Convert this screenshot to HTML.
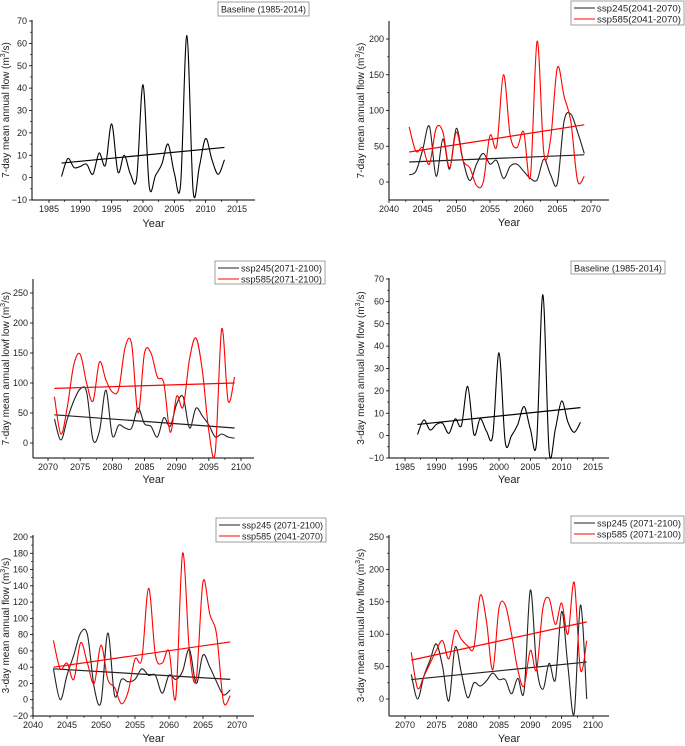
<!DOCTYPE html>
<html><head><meta charset="utf-8"><style>
body{margin:0;background:#fff;}
svg{display:block;font-family:"Liberation Sans",sans-serif;}
</style></head><body>
<svg id="fig" width="685" height="746" viewBox="0 0 685 746"></svg>
<script>
// ---- data ----
const yearsBase = [1987,1988,1989,1990,1991,1992,1993,1994,1995,1996,1997,1998,1999,2000,2001,2002,2003,2004,2005,2006,2007,2008,2009,2010,2011,2012,2013];
const base7 = [0.5,8.5,4.5,5,6,1.5,11,5.5,24,2.5,10,1.5,0,41.5,-4,1,6,15,2,-3,63.5,-6,5,17.5,8,1.5,8];
const base7Trend = [6.5,13.5];
const base3 = [0.5,7,2.5,5,5.5,1,7.5,4.5,22,0.5,7.5,2,0,37,-3,0,5,13,3,-3,63,-7,3,15.5,6,1.5,6];
const base3Trend = [5,12.5];

const yearsMid = [2043,2044,2045,2046,2047,2048,2049,2050,2051,2052,2053,2054,2055,2056,2057,2058,2059,2060,2061,2062,2063,2064,2065,2066,2067,2068,2069];
const mid7_245 = [10,15,45,78,8,60,18,75,30,2,25,40,25,30,5,22,25,15,5,3,32,10,-2,85,95,70,40];
const mid7_245Trend = [28,38];
const mid7_585 = [77,43,48,25,75,70,20,70,30,20,-5,0,65,50,150,65,48,70,8,197,40,60,160,120,85,2,8];
const mid7_585Trend = [42,80];
const mid3_245 = [38,0,30,55,82,80,15,-3,82,5,25,22,25,38,30,30,8,30,25,35,62,20,55,40,22,6,12];
const mid3_245Trend = [38,25];
const mid3_585 = [73,38,45,25,70,45,20,67,25,15,-5,10,50,50,137,55,45,60,3,180,60,25,145,105,80,-2,5];
const mid3_585Trend = [40,71];

const yearsFar = [2071,2072,2073,2074,2075,2076,2077,2078,2079,2080,2081,2082,2083,2084,2085,2086,2087,2088,2089,2090,2091,2092,2093,2094,2095,2096,2097,2098,2099];
const far7_245 = [40,5,40,70,90,85,5,20,88,12,30,25,25,58,32,28,10,42,28,65,77,25,58,45,30,10,15,10,8];
const far7_245Trend = [47,25];
const far7_585 = [77,15,60,130,148,100,70,135,105,85,90,160,165,50,150,150,110,100,18,78,60,140,175,120,20,-15,190,70,110];
const far7_585Trend = [91,100];
const far3_245 = [38,0,35,60,85,50,-3,80,40,2,25,20,28,40,30,30,8,32,12,168,50,15,55,30,135,50,-22,145,0];
const far3_245Trend = [30,57];
const far3_585 = [72,17,35,55,75,90,62,105,92,82,80,160,120,45,140,145,100,45,20,75,45,140,155,115,148,100,180,45,90];
const far3_585Trend = [60,119];

const NS="http://www.w3.org/2000/svg";
const svg=document.getElementById('fig');
function mk(tag,attrs,parent){const e=document.createElementNS(NS,tag);for(const k in attrs)e.setAttribute(k,attrs[k]);(parent||svg).appendChild(e);return e;}

function spline(pts){
  let d=`M${pts[0][0]},${pts[0][1]}`;
  for(let i=0;i<pts.length-1;i++){
    const p0=pts[Math.max(0,i-1)],p1=pts[i],p2=pts[i+1],p3=pts[Math.min(pts.length-1,i+2)];
    const c1x=p1[0]+(p2[0]-p0[0])/6,c1y=p1[1]+(p2[1]-p0[1])/6;
    const c2x=p2[0]-(p3[0]-p1[0])/6,c2y=p2[1]-(p3[1]-p1[1])/6;
    d+=` C${c1x},${c1y} ${c2x},${c2y} ${p2[0]},${p2[1]}`;
  }
  return d;
}

function panel(cfg){
  const g=mk('g',{});
  
  
  const xs=v=>cfg.xp[0]+(v-cfg.xv[0])*(cfg.xp[1]-cfg.xp[0])/(cfg.xv[1]-cfg.xv[0]);
  const ys=v=>cfg.yp[0]+(v-cfg.yv[0])*(cfg.yp[1]-cfg.yp[0])/(cfg.yv[1]-cfg.yv[0]);
  const ax=cfg.axL, ab=cfg.axB;
  const yaxis=mk('line',{x1:ax,y1:cfg.axT,x2:ax,y2:ab,stroke:'#000','stroke-width':1},g);
  
  
  const xaxis=mk('line',{x1:ax,y1:ab,x2:cfg.axR,y2:ab,stroke:'#000','stroke-width':1},g);
  
  
  for(const t of cfg.yticks){
    const y=ys(t);
    mk('line',{x1:ax-3,y1:y,x2:ax,y2:y,stroke:'#000','stroke-width':0.8},g);
    const tx=mk('text',{x:ax-5,y:y+3,'font-size':9,'text-anchor':'end',fill:'#222'},g);
    tx.textContent=String(t).replace('-','\u2212');
    
    
  }
  const ystep=cfg.yticks[1]-cfg.yticks[0];
  for(let i=0;i<cfg.yticks.length-1;i++){const y=ys(cfg.yticks[i]+ystep/2);mk('line',{x1:ax-2,y1:y,x2:ax,y2:y,stroke:'#000','stroke-width':0.6},g);}
  for(const t of cfg.xticks){
    const x=xs(t);
    mk('line',{x1:x,y1:ab,x2:x,y2:ab+3,stroke:'#000','stroke-width':0.8},g);
    const tx=mk('text',{x:x,y:ab+12,'font-size':9,'text-anchor':'middle',fill:'#222'},g);
    tx.textContent=t;
    
    
  }
  const xstep=cfg.xticks[1]-cfg.xticks[0];
  for(let i=0;i<cfg.xticks.length-1;i++){const x=xs(cfg.xticks[i]+xstep/2);mk('line',{x1:x,y1:ab,x2:x,y2:ab+2,stroke:'#000','stroke-width':0.6},g);}
  const xl=mk('text',{x:(ax+cfg.axR)/2+10,y:cfg.xlabY,'font-size':11,'text-anchor':'middle',fill:'#222'},g);
  xl.textContent='Year';
  
  
  const cy=(cfg.axT+ab)/2;
  const yl=mk('text',{x:0,y:0,'font-size':10,'text-anchor':'middle',fill:'#222',transform:`translate(${cfg.ylabX},${cy}) rotate(-90)`},g);
  yl.innerHTML=cfg.ylab+' (m<tspan dy="-4" font-size="7">3</tspan><tspan dy="4">/s)</tspan>';
  
  
  for(const s of cfg.series){
    const pts=cfg.years.map((yr,i)=>[xs(yr),ys(s.vals[i])]);
    const p=mk('path',{d:spline(pts),fill:'none',stroke:s.color,'stroke-width':1.1},g);
    
    
    const y0=cfg.years[0],y1=cfg.years[cfg.years.length-1];
    const tl=mk('line',{x1:xs(y0),y1:ys(s.trend[0]),x2:xs(y1),y2:ys(s.trend[1]),stroke:s.color,'stroke-width':1.2},g);
    
    
  }
  const L=cfg.legend;
  const box=mk('rect',{x:L.x,y:L.y,width:L.w,height:L.h,fill:'#fff',stroke:'#888','stroke-width':0.8},g);
  
  
  L.entries.forEach((e,i)=>{
    const yy=L.y+7+i*11;
    if(e.color){mk('line',{x1:L.x+3,y1:yy,x2:L.x+24,y2:yy,stroke:e.color,'stroke-width':1.1},g);}
    const tx0=e.color?L.x+26:L.x+3;
    const t=mk('text',{x:tx0,y:yy+3.5,'font-size':9.5,fill:'#222',textLength:L.x+L.w-3-tx0,lengthAdjust:'spacingAndGlyphs'},g);
    t.textContent=e.text;
    
    
  });
}

panel({name:'panel-baseline-7day',xp:[49,237],xv:[1985,2015],yp:[21,200],yv:[70,-10],axL:32,axR:255,axT:20,axB:200,
  yticks:[-10,0,10,20,30,40,50,60,70],xticks:[1985,1990,1995,2000,2005,2010,2015],xlabY:227,ylabX:9,
  ylab:'7-day mean annual flow',years:yearsBase,
  series:[{id:'baseline',color:'#000',vals:base7,trend:base7Trend}],
  legend:{x:218,y:2,w:91,h:14,entries:[{text:'Baseline (1985-2014)'}]}});

panel({name:'panel-mid-7day',xp:[389,591],xv:[2040,2070],yp:[39,182],yv:[200,0],axL:389,axR:609,axT:21,axB:200,
  yticks:[0,50,100,150,200],xticks:[2040,2045,2050,2055,2060,2065,2070],xlabY:226,ylabX:364,
  ylab:'7-day mean annual flow',years:yearsMid,
  series:[{id:'ssp245',color:'#222',vals:mid7_245,trend:mid7_245Trend},{id:'ssp585',color:'#f00',vals:mid7_585,trend:mid7_585Trend}],
  legend:{x:571,y:1,w:113,h:24,entries:[{color:'#222',text:'ssp245(2041-2070)'},{color:'#f00',text:'ssp585(2041-2070)'}]}});

panel({name:'panel-far-7day',xp:[48,241],xv:[2070,2100],yp:[293,443],yv:[250,0],axL:33,axR:254,axT:279,axB:458,
  yticks:[0,50,100,150,200,250],xticks:[2070,2075,2080,2085,2090,2095,2100],xlabY:483,ylabX:9,
  ylab:'7-day mean annual lowf low',years:yearsFar,
  series:[{id:'ssp245',color:'#222',vals:far7_245,trend:far7_245Trend},{id:'ssp585',color:'#f00',vals:far7_585,trend:far7_585Trend}],
  legend:{x:215,y:261,w:110,h:23,entries:[{color:'#222',text:'ssp245(2071-2100)'},{color:'#f00',text:'ssp585(2071-2100)'}]}});

panel({name:'panel-baseline-3day',xp:[405,593],xv:[1985,2015],yp:[279,458],yv:[70,-10],axL:389,axR:609,axT:278,axB:458,
  yticks:[-10,0,10,20,30,40,50,60,70],xticks:[1985,1990,1995,2000,2005,2010,2015],xlabY:483,ylabX:364,
  ylab:'3-day mean annual low flow',years:yearsBase,
  series:[{id:'baseline',color:'#000',vals:base3,trend:base3Trend}],
  legend:{x:571,y:261,w:94,h:13,entries:[{text:'Baseline (1985-2014)'}]}});

panel({name:'panel-mid-3day',xp:[33,237],xv:[2040,2070],yp:[537,716],yv:[200,-20],axL:33,axR:254,axT:535,axB:716,
  yticks:[-20,0,20,40,60,80,100,120,140,160,180,200],xticks:[2040,2045,2050,2055,2060,2065,2070],xlabY:742,ylabX:9,
  ylab:'3-day mean annual flow',years:yearsMid,
  series:[{id:'ssp245',color:'#222',vals:mid3_245,trend:mid3_245Trend},{id:'ssp585',color:'#f00',vals:mid3_585,trend:mid3_585Trend}],
  legend:{x:216,y:518,w:110,h:24,entries:[{color:'#222',text:'ssp245 (2071-2100)'},{color:'#f00',text:'ssp585 (2041-2070)'}]}});

panel({name:'panel-far-3day',xp:[405,593],xv:[2070,2100],yp:[537,699],yv:[250,0],axL:389,axR:609,axT:535,axB:716,
  yticks:[0,50,100,150,200,250],xticks:[2070,2075,2080,2085,2090,2095,2100],xlabY:742,ylabX:364,
  ylab:'3-day mean annual low flow',years:yearsFar,
  series:[{id:'ssp245',color:'#222',vals:far3_245,trend:far3_245Trend},{id:'ssp585',color:'#f00',vals:far3_585,trend:far3_585Trend}],
  legend:{x:571,y:516,w:113,h:27,entries:[{color:'#222',text:'ssp245 (2071-2100)'},{color:'#f00',text:'ssp585 (2071-2100)'}]}});
</script>
</body></html>
